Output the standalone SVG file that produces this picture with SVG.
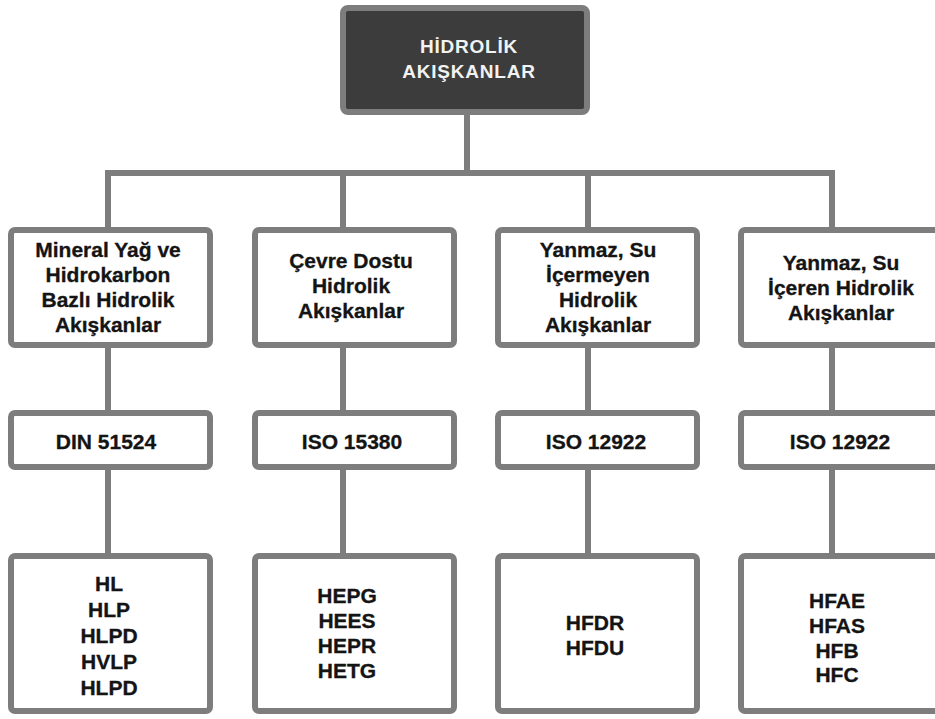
<svg xmlns="http://www.w3.org/2000/svg" width="935" height="719" viewBox="0 0 935 719">
<style>
.box{fill:#ffffff;stroke:#7d7d7d;stroke-width:6}
.top{fill:#3c3c3c;stroke:#7d7d7d;stroke-width:6}
.t{font-family:"Liberation Sans",Arial,sans-serif;font-weight:bold;font-size:21px;fill:#141414;stroke:#141414;stroke-width:0.3px;text-anchor:middle}
.tw{font-family:"Liberation Sans",Arial,sans-serif;font-weight:bold;font-size:19px;fill:#f2f2f2;text-anchor:middle;letter-spacing:0.8px}
.c{fill:none;stroke:#7d7d7d;stroke-width:6;stroke-linejoin:miter}
</style>
<rect width="935" height="719" fill="#ffffff"/>
<g id="connectors">
<path class="c" d="M467,112 V173"/>
<path class="c" d="M108,230 V173 H832 V230"/>
<path class="c" d="M343,173 V230"/>
<path class="c" d="M588,173 V230"/>
<path class="c" d="M108,345 V413 M108,467 V556"/>
<path class="c" d="M343,345 V413 M343,467 V556"/>
<path class="c" d="M588,345 V413 M588,467 V556"/>
<path class="c" d="M832,345 V413 M832,467 V556"/>
</g>
<g id="root">
<rect class="top" x="343" y="8" width="244" height="104" rx="5"/>
<text class="tw" x="469" y="53">HİDROLİK</text>
<text class="tw" x="469" y="78">AKIŞKANLAR</text>
</g>
<g id="cat1">
<rect class="box" x="11" y="230" width="199" height="115" rx="4"/>
<text class="t" x="108" y="257">Mineral Yağ ve</text>
<text class="t" x="108" y="282">Hidrokarbon</text>
<text class="t" x="108" y="307">Bazlı Hidrolik</text>
<text class="t" x="108" y="332">Akışkanlar</text>
</g>
<g id="cat2">
<rect class="box" x="255" y="230" width="199" height="115" rx="4"/>
<text class="t" x="351" y="268">Çevre Dostu</text>
<text class="t" x="351" y="293">Hidrolik</text>
<text class="t" x="351" y="318">Akışkanlar</text>
</g>
<g id="cat3">
<rect class="box" x="498" y="230" width="199" height="115" rx="4"/>
<text class="t" x="598" y="257">Yanmaz, Su</text>
<text class="t" x="598" y="282">İçermeyen</text>
<text class="t" x="598" y="307">Hidrolik</text>
<text class="t" x="598" y="332">Akışkanlar</text>
</g>
<g id="cat4">
<rect class="box" x="741" y="230" width="199" height="115" rx="4"/>
<text class="t" x="841" y="270">Yanmaz, Su</text>
<text class="t" x="841" y="295">İçeren Hidrolik</text>
<text class="t" x="841" y="320">Akışkanlar</text>
</g>
<g id="std1">
<rect class="box" x="11" y="413" width="199" height="54" rx="4"/>
<text class="t" x="106" y="449">DIN 51524</text>
</g>
<g id="std2">
<rect class="box" x="255" y="413" width="199" height="54" rx="4"/>
<text class="t" x="352" y="449">ISO 15380</text>
</g>
<g id="std3">
<rect class="box" x="498" y="413" width="199" height="54" rx="4"/>
<text class="t" x="596" y="449">ISO 12922</text>
</g>
<g id="std4">
<rect class="box" x="741" y="413" width="199" height="54" rx="4"/>
<text class="t" x="840" y="449">ISO 12922</text>
</g>
<g id="types1">
<rect class="box" x="11" y="556" width="199" height="155" rx="4"/>
<text class="t" x="109" y="591">HL</text>
<text class="t" x="109" y="617">HLP</text>
<text class="t" x="109" y="643">HLPD</text>
<text class="t" x="109" y="669">HVLP</text>
<text class="t" x="109" y="695">HLPD</text>
</g>
<g id="types2">
<rect class="box" x="255" y="556" width="199" height="155" rx="4"/>
<text class="t" x="347" y="603">HEPG</text>
<text class="t" x="347" y="628">HEES</text>
<text class="t" x="347" y="653">HEPR</text>
<text class="t" x="347" y="678">HETG</text>
</g>
<g id="types3">
<rect class="box" x="498" y="556" width="199" height="155" rx="4"/>
<text class="t" x="595" y="630">HFDR</text>
<text class="t" x="595" y="655">HFDU</text>
</g>
<g id="types4">
<rect class="box" x="741" y="556" width="199" height="155" rx="4"/>
<text class="t" x="837" y="608">HFAE</text>
<text class="t" x="837" y="633">HFAS</text>
<text class="t" x="837" y="658">HFB</text>
<text class="t" x="837" y="682">HFC</text>
</g>
</svg>
